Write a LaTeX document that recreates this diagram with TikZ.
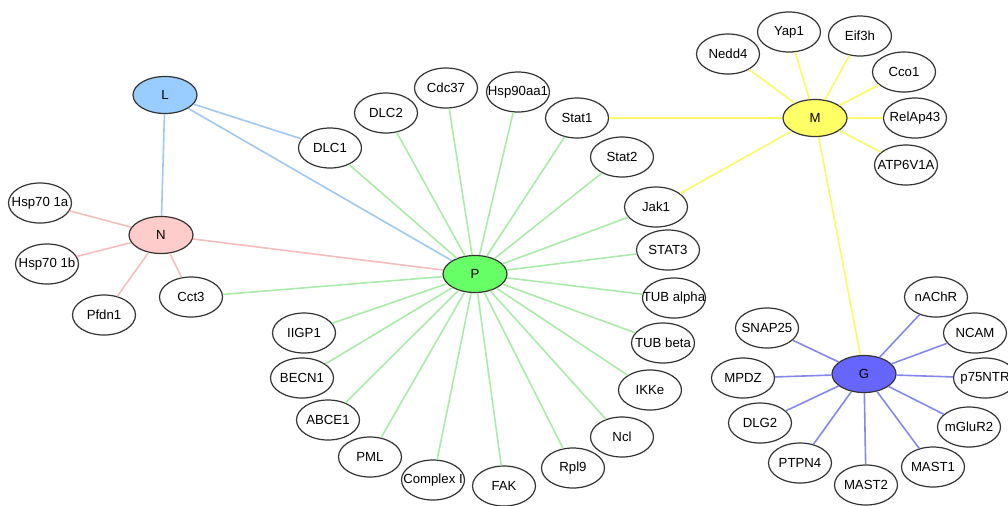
\documentclass[tikz,border=0pt]{standalone}
\usepackage{fontspec}
\setmainfont{Liberation Sans}
\usetikzlibrary{shapes.geometric}
\definecolor{lcol}{RGB}{153,204,255}
\definecolor{ncol}{RGB}{255,204,204}
\definecolor{pcol}{RGB}{102,255,102}
\definecolor{mcol}{RGB}{255,255,102}
\definecolor{gcol}{RGB}{102,102,255}
\definecolor{ledge}{RGB}{160,200,240}
\definecolor{nedge}{RGB}{245,190,190}
\definecolor{pedge}{RGB}{170,235,170}
\definecolor{medge}{RGB}{250,250,100}
\definecolor{gedge}{RGB}{135,135,235}
\newcommand{\gname}[1]{\makebox[0pt]{#1}}

\begin{document}
\begin{tikzpicture}[x=0.5pt,y=-0.5pt,
    every node/.style={font=\fontsize{6.6}{7}\selectfont},
    gene/.style={ellipse,draw=black!80,line width=0.6pt,fill=white,
        minimum width=31.5pt,minimum height=20pt,inner sep=0pt},
    hub/.style={gene,minimum width=32pt,minimum height=18.5pt},
    link/.style={line width=0.8pt}]
  \clip (0,0) rectangle (1008,505);
  % hubs
  \node [hub,fill=lcol] (L) at (165,95) {L};
  \node [hub,fill=ncol] (N) at (161,235) {N};
  \node [hub,fill=pcol] (P) at (475,274) {P};
  \node [hub,fill=mcol] (M) at (815,118) {M};
  \node [hub,fill=gcol] (G) at (864,374) {G};
  % N genes
  \node [gene] (hspa) at (40,203) {\gname{Hsp70 1a}};
  \node [gene] (hspb) at (47,264) {\gname{Hsp70 1b}};
  \node [gene] (pfdn) at (104,315) {\gname{Pfdn1}};
  \node [gene] (cct) at (191,297) {\gname{Cct3}};
  % P genes
  \node [gene] (dlca) at (330,148) {\gname{DLC1}};
  \node [gene] (dlcb) at (386,113) {\gname{DLC2}};
  \node [gene] (cdc) at (446,88) {\gname{Cdc37}};
  \node [gene] (hsp90) at (518,92) {\gname{Hsp90aa1}};
  \node [gene] (stata) at (577,118) {\gname{Stat1}};
  \node [gene] (statb) at (622,157) {\gname{Stat2}};
  \node [gene] (jak) at (656,207) {\gname{Jak1}};
  \node [gene] (statc) at (668,250) {\gname{STAT3}};
  \node [gene] (tuba) at (674,298) {\gname{TUB alpha}};
  \node [gene] (tubb) at (663,343) {\gname{TUB beta}};
  \node [gene] (ikk) at (650,390) {\gname{IKKe}};
  \node [gene] (ncl) at (622,437) {\gname{Ncl}};
  \node [gene] (rpl) at (573,468) {\gname{Rpl9}};
  \node [gene] (fak) at (504,486) {\gname{FAK}};
  \node [gene] (cplx) at (433,480) {\gname{Complex I}};
  \node [gene] (pml) at (370,457) {\gname{PML}};
  \node [gene] (abce) at (328,420) {\gname{ABCE1}};
  \node [gene] (becn) at (302,378) {\gname{BECN1}};
  \node [gene] (iigp) at (304,333) {\gname{IIGP1}};
  % M genes
  \node [gene] (nedd) at (728,54) {\gname{Nedd4}};
  \node [gene] (yap) at (789,32) {\gname{Yap1}};
  \node [gene] (eif) at (860,36) {\gname{Eif3h}};
  \node [gene] (cco) at (904,72) {\gname{Cco1}};
  \node [gene] (relap) at (915,118) {\gname{RelAp43}};
  \node [gene] (atp) at (906,165) {\gname{ATP6V1A}};
  % G genes
  \node [gene] (nachr) at (936,297) {\gname{nAChR}};
  \node [gene] (ncam) at (975,333) {\gname{NCAM}};
  \node [gene] (ntr) at (985,378) {\gname{p75NTR}};
  \node [gene] (mglu) at (969,427) {\gname{mGluR2}};
  \node [gene] (masta) at (933,467) {\gname{MAST1}};
  \node [gene] (mastb) at (866,485) {\gname{MAST2}};
  \node [gene] (ptpn) at (800,463) {\gname{PTPN4}};
  \node [gene] (dlg) at (760,423) {\gname{DLG2}};
  \node [gene] (mpdz) at (743,378) {\gname{MPDZ}};
  \node [gene] (snap) at (767,328) {\gname{SNAP25}};
  % L links
  \draw [link,ledge] (L) -- (N);
  \draw [link,ledge] (L) -- (dlca);
  \draw [link,ledge] (L) -- (P);
  % N links
  \draw [link,nedge] (N) -- (hspa);
  \draw [link,nedge] (N) -- (hspb);
  \draw [link,nedge] (N) -- (pfdn);
  \draw [link,nedge] (N) -- (cct);
  \draw [link,nedge] (N) -- (P);
  % P links
  \draw [link,pedge] (P) -- (cct);
  \draw [link,pedge] (P) -- (dlca);
  \draw [link,pedge] (P) -- (dlcb);
  \draw [link,pedge] (P) -- (cdc);
  \draw [link,pedge] (P) -- (hsp90);
  \draw [link,pedge] (P) -- (stata);
  \draw [link,pedge] (P) -- (statb);
  \draw [link,pedge] (P) -- (jak);
  \draw [link,pedge] (P) -- (statc);
  \draw [link,pedge] (P) -- (tuba);
  \draw [link,pedge] (P) -- (tubb);
  \draw [link,pedge] (P) -- (ikk);
  \draw [link,pedge] (P) -- (ncl);
  \draw [link,pedge] (P) -- (rpl);
  \draw [link,pedge] (P) -- (fak);
  \draw [link,pedge] (P) -- (cplx);
  \draw [link,pedge] (P) -- (pml);
  \draw [link,pedge] (P) -- (abce);
  \draw [link,pedge] (P) -- (becn);
  \draw [link,pedge] (P) -- (iigp);
  % M links
  \draw [link,medge] (M) -- (stata);
  \draw [link,medge] (M) -- (jak);
  \draw [link,medge] (M) -- (G);
  \draw [link,medge] (M) -- (nedd);
  \draw [link,medge] (M) -- (yap);
  \draw [link,medge] (M) -- (eif);
  \draw [link,medge] (M) -- (cco);
  \draw [link,medge] (M) -- (relap);
  \draw [link,medge] (M) -- (atp);
  % G links
  \draw [link,gedge] (G) -- (nachr);
  \draw [link,gedge] (G) -- (ncam);
  \draw [link,gedge] (G) -- (ntr);
  \draw [link,gedge] (G) -- (mglu);
  \draw [link,gedge] (G) -- (masta);
  \draw [link,gedge] (G) -- (mastb);
  \draw [link,gedge] (G) -- (ptpn);
  \draw [link,gedge] (G) -- (dlg);
  \draw [link,gedge] (G) -- (mpdz);
  \draw [link,gedge] (G) -- (snap);
\end{tikzpicture}
\end{document}
